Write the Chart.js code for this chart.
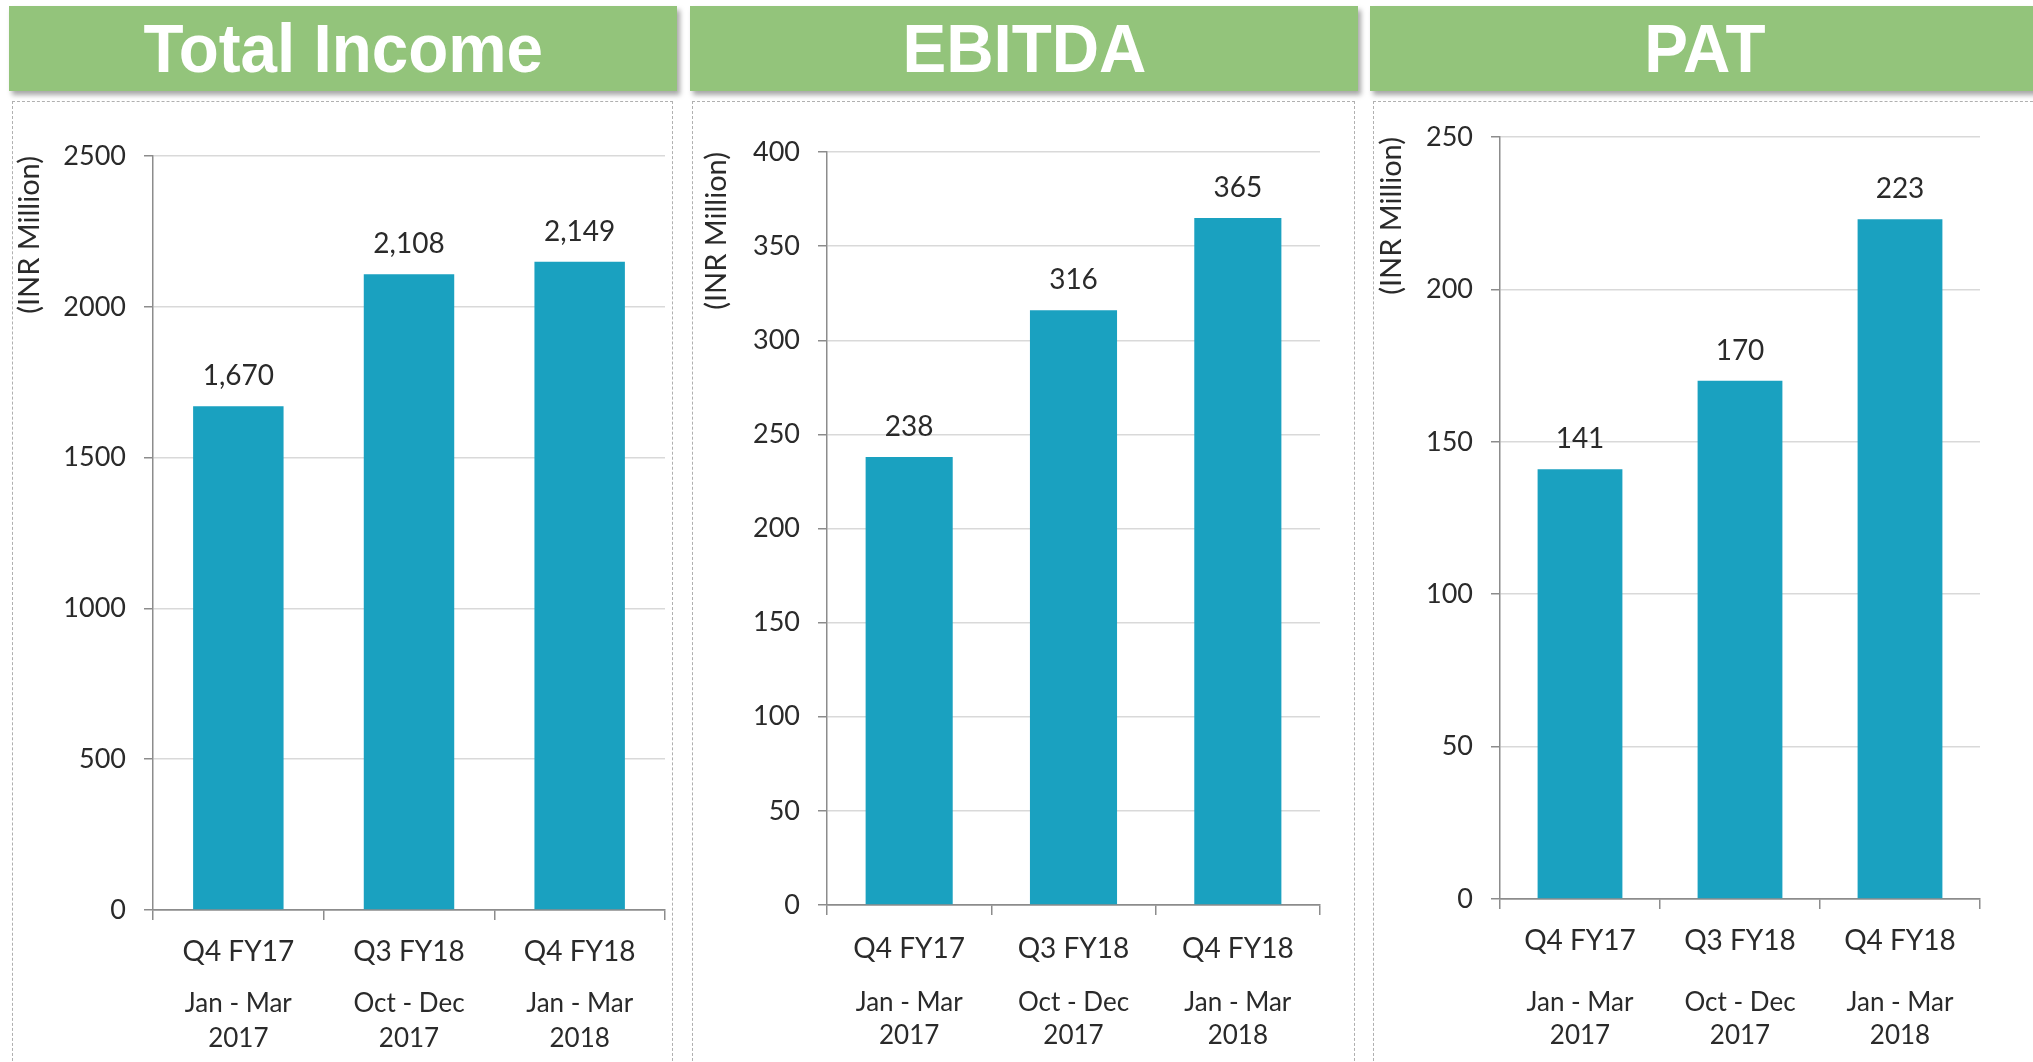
<!DOCTYPE html>
<html>
<head>
<meta charset="utf-8">
<script src="https://cdn.jsdelivr.net/npm/chart.js@4.4.1/dist/chart.umd.min.js"></script>
<style>
    body { margin: 0; background: #fff; width: 2033px; height: 1062px; overflow: hidden; position: relative; }
    .panel-header {
        position: absolute; top: 6px; height: 85px;
        background: #93C47B;
        box-shadow: 3px 4px 5px rgba(0, 0, 0, 0.35);
        display: flex; align-items: center; justify-content: center;
        color: #fff; font-family: "Liberation Sans", Arial, sans-serif; font-weight: bold; font-size: 69px;
    }
    .panel-header span { display: inline-block; transform: scaleX(0.95); }
    .panel-box { position: absolute; top: 101px; height: 975px; border: 1px dashed #b0b0b0; box-sizing: border-box; }
    canvas { position: absolute; }
</style>
</head>
<body>
<script>
// data
const periods = ["Q4 FY17", "Q3 FY18", "Q4 FY18"];
const periodRanges = [["Jan - Mar", "2017"], ["Oct - Dec", "2017"], ["Jan - Mar", "2018"]];
const totalIncome = [1670, 2108, 2149];
const ebitda = [238, 316, 365];
const pat = [141, 170, 223];
const panelTitles = ["Total Income", "EBITDA", "PAT"];
const yMaxes = [2500, 400, 250];
const ySteps = [500, 50, 50];
const yTitle = "(INR Million)";

const barColor = "#1AA1C0";
const axisGray = "#8C8C8C";
const textColor = "#2a2a2a";
const fontName = "Lato";

// layout of each panel (pixels, page coords)
let panels = [
    { data: totalIncome, left: 12, width: 661, headLeft: 9, headWidth: 668, top: 55, right: 8, axisLeft: 141, titlePad: 0, bottom: 152, q1: 40, q2: 92, gap: 34 },
    { data: ebitda, left: 692, width: 663, headLeft: 690, headWidth: 668, top: 51, right: 35, axisLeft: 135, titlePad: 7, bottom: 157, q1: 42, q2: 96, gap: 32 },
    { data: pat, left: 1373, width: 670, headLeft: 1370, headWidth: 670, top: 36, right: 63, axisLeft: 127, titlePad: 1, bottom: 163, q1: 40, q2: 102, gap: 32 }
];

// draws the value above each bar
const valueLabels = {
    id: 'valueLabels',
    afterDatasetsDraw(chart) {
        const ctx = chart.ctx;
        const meta = chart.getDatasetMeta(0);
        ctx.save();
        ctx.font = `28px ${fontName}`;
        ctx.fillStyle = textColor;
        ctx.textAlign = 'center';
        ctx.textBaseline = 'middle';
        meta.data.forEach((bar, i) => {
            const v = chart.data.datasets[0].data[i];
            ctx.fillText(v.toLocaleString('en-US'), bar.x, bar.y - 30);
        });
        ctx.restore();
    }
};

panels.forEach((p, idx) => {
    // green title bar
    const head = document.createElement('div');
    head.className = 'panel-header';
    head.style.left = p.headLeft + 'px';
    head.style.width = p.headWidth + 'px';
    const span = document.createElement('span');
    span.textContent = panelTitles[idx];
    head.appendChild(span);
    document.body.appendChild(head);

    // dotted frame
    const box = document.createElement('div');
    box.className = 'panel-box';
    box.style.left = p.left + 'px';
    box.style.width = p.width + 'px';
    document.body.appendChild(box);

    const canvas = document.createElement('canvas');
    canvas.width = p.width;
    canvas.height = 961;
    canvas.style.left = p.left + 'px';
    canvas.style.top = '101px';
    document.body.appendChild(canvas);

    const h1 = 60;
    new Chart(canvas, {
        type: 'bar',
        data: {
            labels: periods,
            datasets: [{
                data: p.data,
                backgroundColor: barColor,
                barPercentage: 0.53,
                categoryPercentage: 1.0
            }]
        },
        options: {
            responsive: false,
            animation: false,
            devicePixelRatio: 1,
            layout: { padding: { top: p.top, right: p.right, left: 0, bottom: 0 } },
            plugins: { legend: { display: false }, tooltip: { enabled: false } },
            scales: {
                y: {
                    min: 0,
                    max: yMaxes[idx],
                    afterFit: (s) => { s.width = p.axisLeft; },
                    ticks: {
                        stepSize: ySteps[idx],
                        padding: 18,
                        color: textColor,
                        font: { family: fontName, size: 27 },
                        callback: (v) => String(v)
                    },
                    grid: {
                        color: (c) => c.tick && c.tick.value === 0 ? axisGray : '#D9D9D9',
                        lineWidth: 1.5,
                        tickLength: 9,
                        tickColor: axisGray
                    },
                    border: { color: axisGray, width: 1.5 },
                    title: {
                        display: true,
                        text: yTitle,
                        align: 'end',
                        color: textColor,
                        font: { family: fontName, size: 29 },
                        padding: { top: p.titlePad, bottom: 0 }
                    }
                },
                x: {
                    weight: 0,
                    afterFit: (s) => { s.height = h1; },
                    ticks: {
                        padding: p.q1 - 10 - 16.8 + 2,
                        color: textColor,
                        maxRotation: 0,
                        font: { family: fontName, size: 28 }
                    },
                    grid: { drawOnChartArea: false, tickLength: 10, tickColor: axisGray, lineWidth: 1.5 },
                    border: { color: axisGray, width: 1.5 }
                },
                x2: {
                    type: 'category',
                    position: 'bottom',
                    weight: 1,
                    labels: periodRanges,
                    offset: true,
                    afterFit: (s) => { s.height = p.bottom - h1; },
                    ticks: {
                        padding: p.q2 - h1 - p.gap / 2 + 1,
                        color: textColor,
                        maxRotation: 0,
                        font: { family: fontName, size: 26, lineHeight: (p.gap + 1) / 26 }
                    },
                    grid: { display: false, drawTicks: false },
                    border: { display: false }
                }
            }
        },
        plugins: [valueLabels]
    });
});
</script>
</body>
</html>
